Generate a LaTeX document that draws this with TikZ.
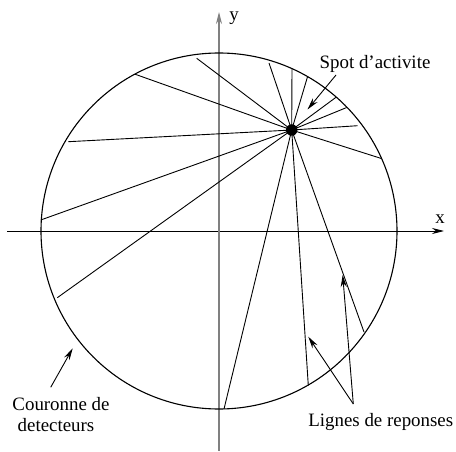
\documentclass[tikz,border=0pt]{standalone}
\usepackage{fontspec}
\setmainfont{Liberation Serif}
\usetikzlibrary{arrows.meta}
\newcommand{\lblfont}{\fontsize{18.9pt}{22pt}\selectfont}
\begin{document}
\begin{tikzpicture}[x=1pt,y=-1pt,
  ray/.style={line width=0.9pt},
  axisline/.style={line width=0.9pt,-{Stealth[length=12pt,width=6pt]}},
  pointer/.style={line width=0.9pt,-{Stealth[length=12pt,width=6pt]}},
  lbl/.style={font=\lblfont,inner sep=0pt,anchor=base}]
\useasboundingbox (0,0) rectangle (456,452);
% axes
\coordinate (xs) at (7,231);
\coordinate (xe) at (444,231);
\coordinate (ys) at (219,451);
\coordinate (ye) at (219,12);
\draw[axisline] (xs) -- (xe);
\draw[axisline,line width=1.2pt,draw=gray,fill=black] (ys) -- (ye);
\node[lbl] (xl) at (440,223) {x};
\node[lbl] (yl) at (234,21) {y};
% detector ring
\node[draw,circle,line width=1.1pt,minimum size=356pt,inner sep=0pt] (ring) at (219,231) {};
% spot
\node[circle,fill=black,minimum size=11.5pt,inner sep=0pt] (spot) at (291.7,130) {};
% response line endpoints
\coordinate (e1) at (269,63);
\coordinate (e2) at (292,68.5);
\coordinate (e3) at (307.5,76.8);
\coordinate (e4) at (336,97.3);
\coordinate (e5) at (346.7,107.5);
\coordinate (e6) at (357.7,125.7);
\coordinate (e7) at (381.7,158.6);
\coordinate (e8) at (364,332);
\coordinate (e9) at (308.3,385.5);
\coordinate (e10) at (224,409);
\coordinate (e11) at (57.3,297.7);
\coordinate (e12) at (40.7,220);
\coordinate (e13) at (68.3,141.7);
\coordinate (e14) at (135,74.2);
\coordinate (e15) at (196.7,58.3);
\draw[ray] (spot.center) -- (e1);
\draw[ray] (spot.center) -- (e2);
\draw[ray] (spot.center) -- (e3);
\draw[ray] (spot.center) -- (e4);
\draw[ray] (spot.center) -- (e5);
\draw[ray] (spot.center) -- (e6);
\draw[ray] (spot.center) -- (e7);
\draw[ray] (spot.center) -- (e8);
\draw[ray] (spot.center) -- (e9);
\draw[ray] (spot.center) -- (e10);
\draw[ray] (spot.center) -- (e11);
\draw[ray] (spot.center) -- (e12);
\draw[ray] (spot.center) -- (e13);
\draw[ray] (spot.center) -- (e14);
\draw[ray] (spot.center) -- (e15);
% labels
\node[lbl] (spotl) at (375,68.3) {Spot d'activite};
\coordinate (spota) at (336,75);
\coordinate (spott) at (307.5,109.5);
\draw[pointer] (spota) -- (spott);
\node[lbl] (cour1) at (61,410) {Couronne de};
\node[lbl] (cour2) at (56,431.7) {detecteurs};
\coordinate (coura) at (50.7,387.3);
\coordinate (court) at (72.7,348.3);
\draw[pointer] (coura) -- (court);
\node[lbl] (lign) at (380.8,426.7) {Lignes de reponses};
\coordinate (ligna) at (353.3,404);
\coordinate (lignt1) at (308.3,336.7);
\coordinate (lignt2) at (342.7,275);
\draw[pointer] (ligna) -- (lignt1);
\draw[pointer] (ligna) -- (lignt2);
\end{tikzpicture}
\end{document}
